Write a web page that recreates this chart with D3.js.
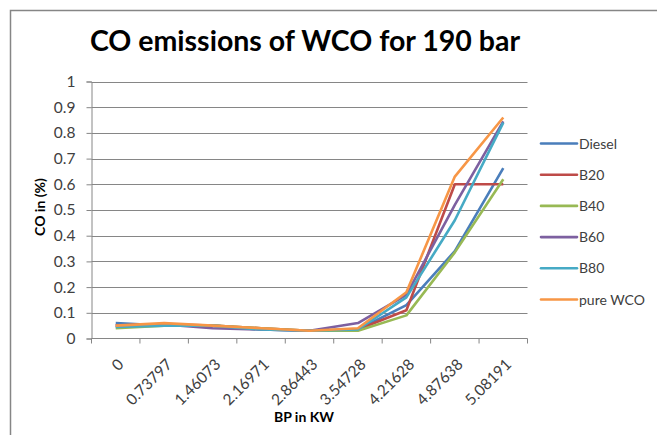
<!DOCTYPE html>
<html><head><meta charset="utf-8">
<script src="https://cdn.jsdelivr.net/npm/d3@7"></script>
<style>body{margin:0;background:#fff}svg{display:block}text{font-family:Lato,"Open Sans",sans-serif}</style>
</head><body><svg id="c" width="657" height="435"></svg>
<script>
const categories = ["0","0.73797","1.46073","2.16971","2.86443","3.54728","4.21628","4.87638","5.08191"];
const seriesNames = ["Diesel","B20","B40","B60","B80","pure WCO"];
const diesel = [0.06,0.05,0.05,0.035,0.03,0.035,0.13,0.34,0.663];
const b20    = [0.05,0.055,0.05,0.04,0.03,0.035,0.11,0.60,0.60];
const b40    = [0.04,0.05,0.05,0.04,0.03,0.03,0.09,0.335,0.62];
const b60    = [0.05,0.055,0.04,0.035,0.03,0.06,0.17,0.52,0.845];
const b80    = [0.045,0.05,0.05,0.035,0.03,0.035,0.16,0.46,0.84];
const pureWCO= [0.05,0.06,0.05,0.04,0.03,0.04,0.18,0.63,0.86];
const yTicks = [0,0.1,0.2,0.3,0.4,0.5,0.6,0.7,0.8,0.9,1];
const colors = ["#4A7EBB","#BE4B48","#98B954","#7D60A0","#46AAC5","#F79646"];
const seriesData = [diesel,b20,b40,b60,b80,pureWCO];

const svg = d3.select("#c");
svg.append("rect").attr("x",10.5).attr("y",10.5).attr("width",700).attr("height",500)
  .attr("fill","#fff").attr("stroke","#868686").attr("stroke-width",1.5);

const L=91.5, R=527.5, T=81.5, B=338.5;
const x = d3.scaleBand().domain(categories).range([L,R]).padding(0);
const y = d3.scaleLinear().domain([0,1]).range([B,T]);

// gridlines
svg.append("g").selectAll("line").data(yTicks.slice(1)).join("line")
  .attr("x1",L).attr("x2",R).attr("y1",d=>Math.round(y(d))+0.5).attr("y2",d=>Math.round(y(d))+0.5)
  .attr("stroke","#868686").attr("stroke-width",1);

// y axis
const ya = svg.append("g").attr("transform",`translate(${L},0)`)
  .call(d3.axisLeft(y).tickValues(yTicks).tickSize(5).tickPadding(11).tickFormat(d=>d3.format("")(+d.toFixed(1))));
ya.select(".domain").attr("stroke","#868686");
ya.selectAll(".tick line").attr("stroke","#868686");
ya.selectAll(".tick text").attr("font-size",15.5).attr("fill","#404040").attr("font-family","Lato,sans-serif");

// x axis
const xa = svg.append("g").attr("transform",`translate(0,${B})`)
  .call(d3.axisBottom(x).tickSize(0).tickFormat(d=>d));
xa.select(".domain").attr("stroke","#868686").attr("d",`M${L},0H${R}`);
xa.selectAll(".tick text").attr("font-size",15.5).attr("fill","#404040").attr("font-family","Lato,sans-serif")
  .attr("text-anchor","end").attr("dy",0).attr("y",0)
  .attr("transform","translate(9,27) rotate(-45)");
// category boundary ticks
svg.append("g").selectAll("line").data(d3.range(categories.length+1)).join("line")
  .attr("x1",i=>L+i*x.bandwidth()).attr("x2",i=>L+i*x.bandwidth())
  .attr("y1",B).attr("y2",B+5).attr("stroke","#868686");

// lines
const line = d3.line().x((d,i)=>x(categories[i])+x.bandwidth()/2).y(d=>y(d));
seriesData.forEach((s,k)=>{
  svg.append("path").datum(s).attr("d",line).attr("fill","none")
    .attr("stroke",colors[k]).attr("stroke-width",2.6).attr("stroke-linejoin","round");
});

// legend
const lg = svg.append("g");
seriesNames.forEach((n,k)=>{
  const yy = 143.5 + k*31.2;
  lg.append("line").attr("x1",541).attr("x2",577).attr("y1",yy).attr("y2",yy)
    .attr("stroke",colors[k]).attr("stroke-width",2.6).attr("stroke-linecap","round");
  lg.append("text").attr("x",579).attr("y",yy+5).attr("font-size",14).attr("fill","#404040").text(n);
});

// titles
svg.append("text").attr("x",305).attr("y",51).attr("text-anchor","middle").attr("font-size",28.5)
  .attr("font-weight","bold").attr("fill","#000").text("CO emissions of WCO for 190 bar");
svg.append("text").attr("transform","translate(45,207) rotate(-90)").attr("text-anchor","middle")
  .attr("font-size",14).attr("font-weight","bold").attr("fill","#000").text("CO in (%)");
svg.append("text").attr("x",304).attr("y",422).attr("text-anchor","middle")
  .attr("font-size",14).attr("font-weight","bold").attr("fill","#000").text("BP in KW");
</script></body></html>
